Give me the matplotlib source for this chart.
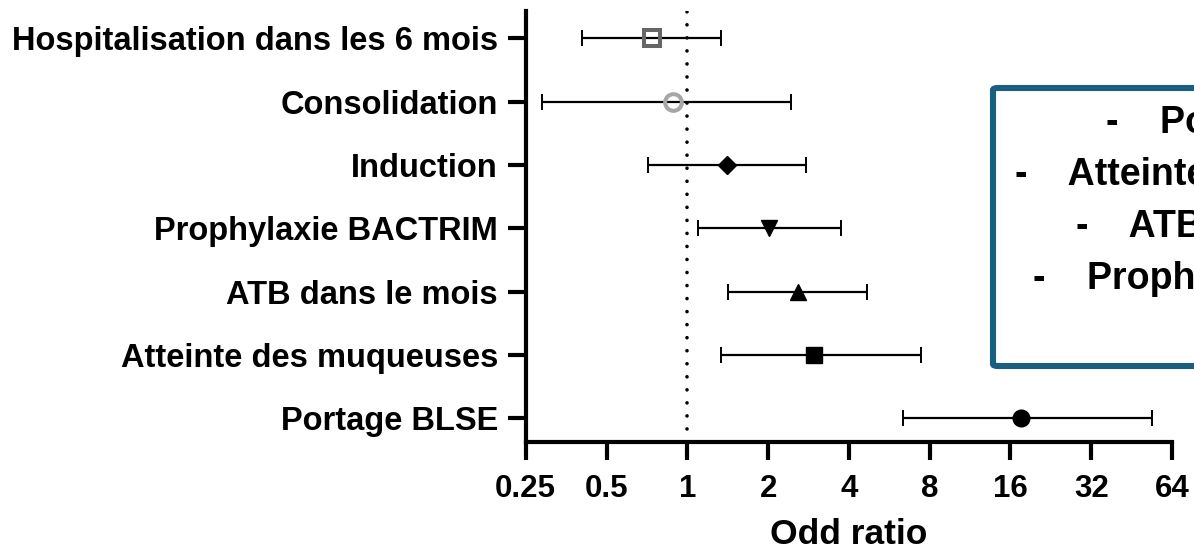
"""Forest plot of odds ratios (log2 scale)."""

import matplotlib.pyplot as plt
from matplotlib.patches import FancyBboxPatch

# data, top row first
labels = [
    "Hospitalisation dans les 6 mois",
    "Consolidation",
    "Induction",
    "Prophylaxie BACTRIM",
    "ATB dans le mois",
    "Atteinte des muqueuses",
    "Portage BLSE",
]
odds = [0.737, 0.885, 1.41, 2.02, 2.58, 2.96, 17.5]
ci_low = [0.406, 0.288, 0.716, 1.10, 1.42, 1.33, 6.36]
ci_high = [1.33, 2.44, 2.76, 3.75, 4.69, 7.44, 53.7]
markers = ["s", "o", "D", "v", "^", "s", "o"]
face = ["none", "none", "black", "black", "black", "black", "black"]
edge = ["#666666", "#a6a6a6", "black", "black", "black", "black", "black"]
msize = [12, 12, 9.5, 12, 12, 12, 12]

xticks = [0.25, 0.5, 1, 2, 4, 8, 16, 32, 64]
xtick_labels = ["0.25", "0.5", "1", "2", "4", "8", "16", "32", "64"]

legend_lines = [
    "-    Portage BLSE",
    "-    Atteinte des muqueuses",
    "-    ATB dans le mois",
    "-    Prophylaxie BACTRIM",
]

plt.rcParams["font.family"] = ["Liberation Sans", "DejaVu Sans"]
plt.rcParams["font.weight"] = "bold"

fig = plt.figure(figsize=(11.94, 5.54), dpi=100)
ax = fig.add_axes([0.4403, 0.2013, 0.5413, 0.7787])

n = len(labels)
ypos = [n - 1 - i for i in range(n)]

for i in range(n):
    ax.errorbar(
        odds[i], ypos[i],
        xerr=[[odds[i] - ci_low[i]], [ci_high[i] - odds[i]]],
        fmt="none", ecolor="black", elinewidth=1.6, capsize=6, capthick=1.4,
        zorder=2,
    )
    ax.plot(
        odds[i], ypos[i], marker=markers[i], markersize=msize[i],
        markerfacecolor=face[i], markeredgecolor=edge[i],
        markeredgewidth=2.9 if face[i] == "none" else 1, linestyle="none",
        zorder=3,
    )

ax.axvline(1, color="black", lw=2.6, linestyle=(0, (0.01, 3.6)),
           dash_capstyle="round", zorder=1)

ax.set_xscale("log", base=2)
ax.set_xlim(0.25, 64)
ax.set_ylim(-0.382, n - 1 + 0.43)
ax.set_xticks(xticks)
ax.set_xticklabels(xtick_labels)
ax.minorticks_off()
ax.set_yticks(ypos)
ax.set_yticklabels(labels)

for side in ("top", "right"):
    ax.spines[side].set_visible(False)
for side in ("left", "bottom"):
    ax.spines[side].set_linewidth(3)
ax.tick_params(axis="both", width=3, length=13)
ax.tick_params(axis="y", labelsize=23.5, pad=7)
ax.tick_params(axis="x", labelsize=22.5, pad=10)
ax.set_xlabel("Odd ratio", fontsize=25.5, fontweight="bold", labelpad=10)

# text box, cut off by the right edge of the figure
box = FancyBboxPatch(
    (993 / 1194, 1 - 366 / 554), 0.3, (366 - 88) / 554,
    boxstyle="round,pad=0,rounding_size=0.004",
    transform=fig.transFigure, facecolor="white", edgecolor="#1a5f80",
    linewidth=4.4, clip_on=False,
)
fig.patches.append(box)
for k, line in enumerate(legend_lines):
    fig.text(1258 / 1194, 1 - (123 + 52 * k) / 554, line, fontsize=27,
             fontweight="bold", ha="center", va="center")

fig.savefig("out.png", dpi=100)
